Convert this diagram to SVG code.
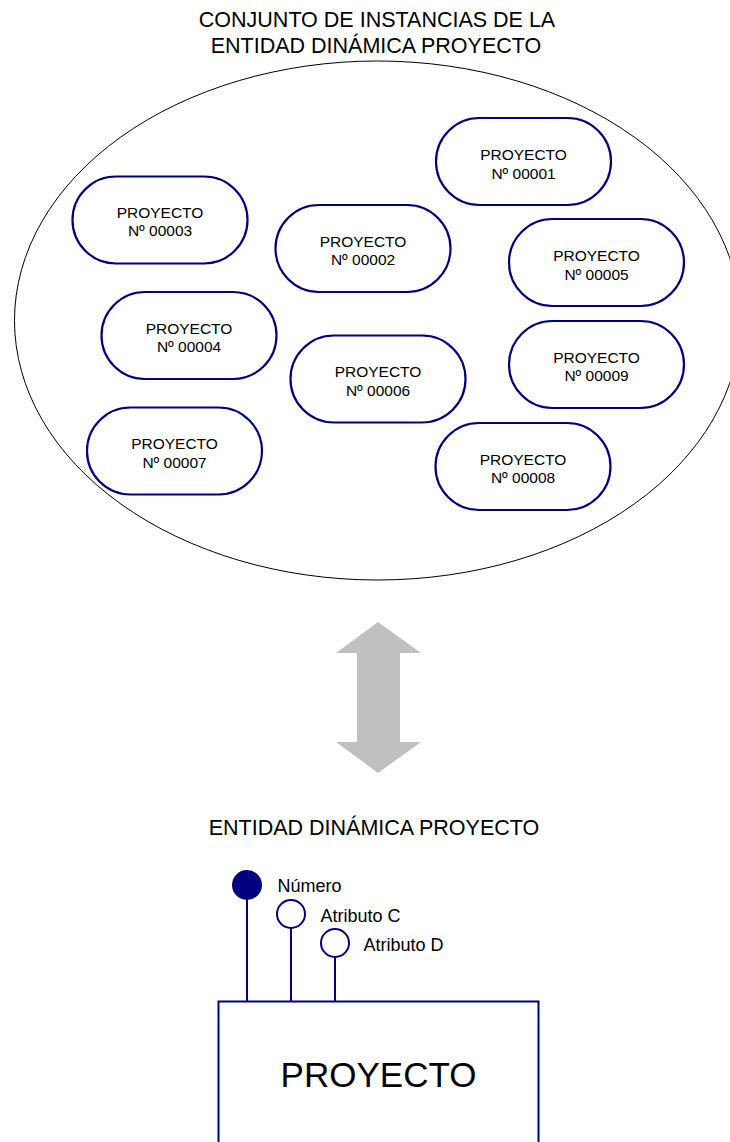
<svg xmlns="http://www.w3.org/2000/svg" width="730" height="1142" viewBox="0 0 730 1142">
  <style>
    .title { font-family: "Liberation Sans", Arial, sans-serif; font-size: 21.5px; fill: #000; text-anchor: middle; }
    .inst rect { fill: #fff; stroke: #000080; stroke-width: 2.2; }
    .inst text { font-family: "Liberation Sans", Arial, sans-serif; font-size: 15.5px; fill: #000; text-anchor: middle; }
    .attr-line { stroke: #000080; stroke-width: 2; fill: none; }
    .attr-label { font-family: "Liberation Sans", Arial, sans-serif; font-size: 18px; fill: #000; }
    .entity-box { fill: #fff; stroke: #000080; stroke-width: 2; }
  </style>
  <defs>
    <!-- instance pill, centred on its origin -->
    <rect id="pill" x="-87.5" y="-43.5" width="175" height="87" rx="43.5" ry="43.5"/>
  </defs>

  <rect width="730" height="1142" fill="#fff"/>

  <!-- set of instances -->
  <g id="set-title">
    <text class="title" x="377" y="27">CONJUNTO DE INSTANCIAS DE LA</text>
    <text class="title" x="376" y="53">ENTIDAD DINÁMICA PROYECTO</text>
  </g>
  <ellipse id="instance-set" cx="377.5" cy="320.5" rx="363" ry="259.5" fill="none" stroke="#000" stroke-width="1"/>

  <g id="p00001" class="inst" transform="translate(523.5,161.5)">
    <rect x="-87.5" y="-43.5" width="175" height="87" rx="43.5"/>
    <text y="-1.5">PROYECTO</text><text y="17">Nº 00001</text>
  </g>
  <g id="p00003" class="inst" transform="translate(160,220)">
    <rect x="-87.5" y="-43.5" width="175" height="87" rx="43.5"/>
    <text y="-2.5">PROYECTO</text><text y="16">Nº 00003</text>
  </g>
  <g id="p00002" class="inst" transform="translate(363,248.5)">
    <rect x="-87.5" y="-43.5" width="175" height="87" rx="43.5"/>
    <text y="-2">PROYECTO</text><text y="16.5">Nº 00002</text>
  </g>
  <g id="p00005" class="inst" transform="translate(596.5,262.5)">
    <rect x="-87.5" y="-43.5" width="175" height="87" rx="43.5"/>
    <text y="-1.5">PROYECTO</text><text y="17">Nº 00005</text>
  </g>
  <g id="p00004" class="inst" transform="translate(189,335.5)">
    <rect x="-87.5" y="-43.5" width="175" height="87" rx="43.5"/>
    <text y="-2">PROYECTO</text><text y="16.5">Nº 00004</text>
  </g>
  <g id="p00006" class="inst" transform="translate(378,379)">
    <rect x="-87.5" y="-43.5" width="175" height="87" rx="43.5"/>
    <text y="-2">PROYECTO</text><text y="16.5">Nº 00006</text>
  </g>
  <g id="p00009" class="inst" transform="translate(596.5,364.5)">
    <rect x="-87.5" y="-43.5" width="175" height="87" rx="43.5"/>
    <text y="-2">PROYECTO</text><text y="16.5">Nº 00009</text>
  </g>
  <g id="p00007" class="inst" transform="translate(174.5,451)">
    <rect x="-87.5" y="-43.5" width="175" height="87" rx="43.5"/>
    <text y="-2">PROYECTO</text><text y="16.5">Nº 00007</text>
  </g>
  <g id="p00008" class="inst" transform="translate(523,466.5)">
    <rect x="-87.5" y="-43.5" width="175" height="87" rx="43.5"/>
    <text y="-2">PROYECTO</text><text y="16.5">Nº 00008</text>
  </g>

  <!-- correspondence between the set and the entity -->
  <g id="connectors">
    <polygon id="double-arrow" fill="#C0C0C0" points="378,622 421,653 400,653 400,742 421,742 378,773 336,742 357,742 357,653 336,653"/>
    <line class="attr-line" x1="247" y1="899" x2="247" y2="1002"/>
    <line class="attr-line" x1="291" y1="928" x2="291" y2="1002"/>
    <line class="attr-line" x1="335" y1="957" x2="335" y2="1002"/>
  </g>

  <!-- dynamic entity -->
  <g id="entity-title">
    <text class="title" x="374" y="835">ENTIDAD DINÁMICA PROYECTO</text>
  </g>
  <g id="attr-numero">
    <circle cx="247" cy="885" r="14" fill="#000080" stroke="#000080" stroke-width="2"/>
    <text class="attr-label" x="277.5" y="892">Número</text>
  </g>
  <g id="attr-c">
    <circle cx="291" cy="914" r="14" fill="#fff" stroke="#000080" stroke-width="2"/>
    <text class="attr-label" x="320.5" y="921.5">Atributo C</text>
  </g>
  <g id="attr-d">
    <circle cx="335" cy="943" r="14" fill="#fff" stroke="#000080" stroke-width="2"/>
    <text class="attr-label" x="363.5" y="951">Atributo D</text>
  </g>
  <g id="entity-proyecto">
    <rect class="entity-box" x="218.5" y="1001.5" width="320" height="160"/>
    <text x="378.5" y="1087" font-family="'Liberation Sans', Arial, sans-serif" font-size="35" text-anchor="middle" fill="#000">PROYECTO</text>
  </g>
</svg>
